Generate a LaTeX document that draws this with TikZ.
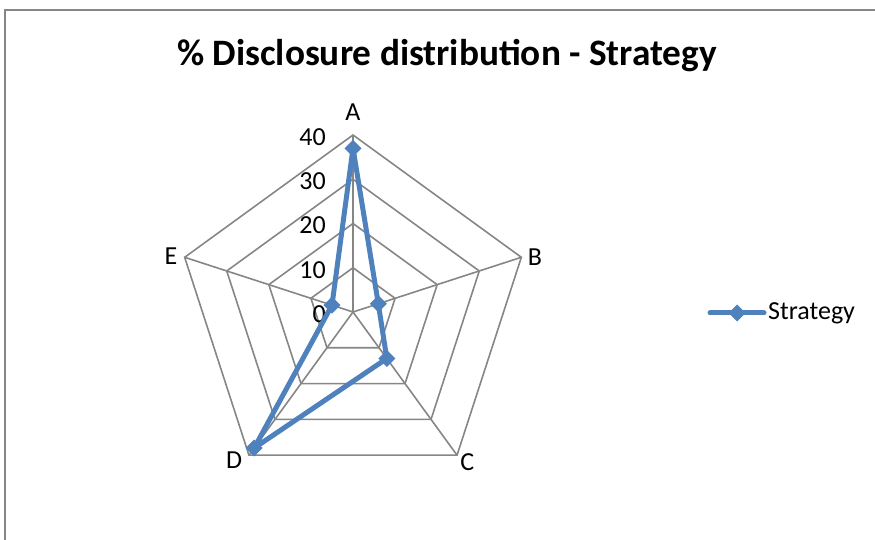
\documentclass[tikz,border=0pt]{standalone}
\usepackage{fontspec}
\setmainfont{Carlito}
\definecolor{gridgray}{HTML}{868686}
\definecolor{serblue}{HTML}{4F81BD}
\tikzset{
  gridline/.style={draw=gridgray,line width=1.6pt},
  series/.style={draw=serblue,line width=5pt,line join=round},
  lbl/.style={font=\fontsize{26}{30}\selectfont,inner sep=0pt}
}
\begin{document}
\begin{tikzpicture}[x=1pt,y=1pt]
  \useasboundingbox (0,0) rectangle (875,540);
  % chart frame
  \draw[gridgray,line width=1.5pt] (5,-20) |- (900,530);
  \node[font=\bfseries\fontsize{37.3}{44}\selectfont,anchor=base,inner sep=0pt]
    (title) at (447,474) {\% Disclosure distribution - Strategy};
  \begin{scope}[shift={(353,228)}]
    % rings and spokes
    \foreach \r in {44.25,88.5,132.75,177}
      \draw[gridline] (90:\r) -- (18:\r) -- (-54:\r) -- (-126:\r) -- (162:\r) -- cycle;
    \foreach \a in {90,18,-54,-126,162}
      \draw[gridline] (0,0) -- (\a:177);
    % axis values
    \foreach \v/\r in {0/0,10/44.25,20/88.5,30/132.75,40/177}
      \node[lbl,anchor=east] (v\v) at (-27,\r-2) {\v};
    % categories
    \node[lbl] (catA) at (0,200) {A};
    \node[lbl] (catB) at (182,55.3) {B};
    \node[lbl] (catC) at (114.3,-150) {C};
    \node[lbl] (catD) at (-119,-148.3) {D};
    \node[lbl] (catE) at (-182,56.2) {E};
    % data: 37, 6, 13, 38, 5
    \coordinate (pA) at (90:163.7);
    \coordinate (pB) at (18:26.6);
    \coordinate (pC) at (-54:57.5);
    \coordinate (pD) at (-126:168.2);
    \coordinate (pE) at (162:22.1);
    \draw[series] (pA) -- (pB) -- (pC) -- (pD) -- (pE) -- cycle;
    \foreach \p in {pA,pB,pC,pD,pE}
      \fill[serblue] (\p) +(0:8.5) -- +(90:8.5) -- +(180:8.5) -- +(270:8.5) -- cycle;
  \end{scope}
  % legend
  \coordinate (legL) at (710,227);
  \coordinate (legR) at (764,227);
  \draw[series,line cap=round] (legL) -- (legR);
  \fill[serblue] (737,227) +(0:8.5) -- +(90:8.5) -- +(180:8.5) -- +(270:8.5) -- cycle;
  \node[lbl,anchor=base west] (legtext) at (768,220.7) {Strategy};
\end{tikzpicture}
\end{document}
